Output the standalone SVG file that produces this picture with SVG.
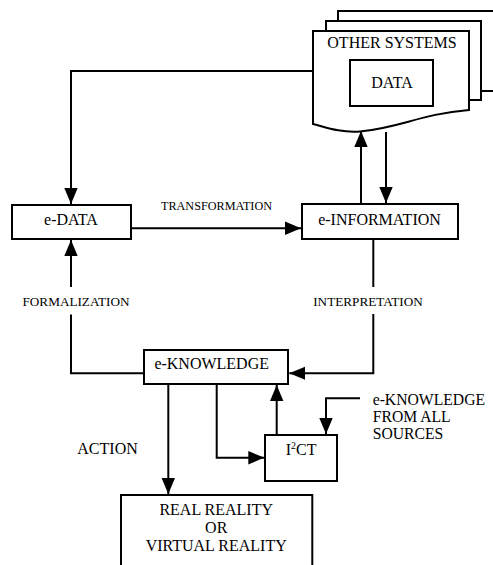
<svg xmlns="http://www.w3.org/2000/svg" width="493" height="565" viewBox="0 0 493 565">
<style>
.box{fill:#fff;stroke:#000;stroke-width:2}
.ln{fill:none;stroke:#000;stroke-width:2}
.arr{fill:none;stroke:#000;stroke-width:2;marker-end:url(#ah)}
.n{font-size:16px;text-anchor:middle}
.lb{font-size:13.2px;text-anchor:middle}
</style>
<defs>
<marker id="ah" markerUnits="userSpaceOnUse" markerWidth="16" markerHeight="14" viewBox="0 0 16 14" refX="16" refY="7" orient="auto">
<path d="M0,0.3 L16,7 L0,13.7 Z" fill="#000"/>
</marker>
</defs>
<rect width="493" height="565" fill="#fff"/>
<g id="connectors">
<polyline class="arr" points="313,71 71,71 71,204"/>
<line class="arr" x1="132" y1="228.3" x2="301" y2="228.3"/>
<line class="arr" x1="361" y1="203" x2="361" y2="131"/>
<line class="arr" x1="386" y1="132" x2="386" y2="203"/>
<line class="ln" x1="373.3" y1="240" x2="373.3" y2="287"/>
<polyline class="arr" points="373.3,314 373.3,373.3 289.3,373.3"/>
<polyline class="ln" points="143.3,373.3 71,373.3 71,314.5"/>
<line class="arr" x1="71" y1="287" x2="71" y2="240"/>
<line class="arr" x1="168.3" y1="385" x2="168.3" y2="494"/>
<polyline class="arr" points="216.7,385 216.7,457.7 264.3,457.7"/>
<line class="arr" x1="276.7" y1="434" x2="276.7" y2="385"/>
<polyline class="arr" points="360,398.3 326,398.3 326,434"/>
</g>
<g font-family="'Liberation Serif', 'Times New Roman', 'DejaVu Serif', serif" fill="#000">
<g id="other-systems">
<rect class="box" x="338" y="11" width="170" height="80"/>
<rect class="box" x="326" y="21" width="155" height="79"/>
<path class="box" d="M313,31 H469 V110 C420,114 400,128 360,131.5 C340,133 325,127 313,124 Z"/>
<text class="n" x="392" y="48">OTHER SYSTEMS</text>
</g>
<g id="data">
<rect class="box" x="350" y="60" width="83" height="46"/>
<text class="n" x="392" y="87.5">DATA</text>
</g>
<g id="e-data">
<rect class="box" x="12" y="205" width="119" height="34"/>
<text class="n" x="71" y="225">e-DATA</text>
</g>
<g id="e-information">
<rect class="box" x="302" y="204" width="156" height="35"/>
<text class="n" x="379.5" y="225">e-INFORMATION</text>
</g>
<g id="e-knowledge">
<rect class="box" x="144" y="350" width="144" height="34"/>
<text class="n" x="211.7" y="369.3">e-KNOWLEDGE</text>
</g>
<g id="i2ct">
<rect class="box" x="265" y="435" width="72" height="46"/>
<text x="285.7" y="455" font-size="16">I<tspan dy="-6" font-size="10">2</tspan><tspan dy="6">CT</tspan></text>
</g>
<g id="reality">
<path class="ln" d="M121,567 V495 H312.3 V567"/>
<text class="n" x="216.2" y="514.5">REAL REALITY</text>
<text class="n" x="216.2" y="532.5">OR</text>
<text class="n" x="216.2" y="551.2">VIRTUAL REALITY</text>
</g>
<g id="labels">
<text class="lb" x="216.5" y="210" style="font-size:12.2px">TRANSFORMATION</text>
<text class="lb" x="368" y="305.7">INTERPRETATION</text>
<text class="lb" x="76" y="306">FORMALIZATION</text>
<text x="77.3" y="454.3" font-size="16">ACTION</text>
</g>
<g id="external-knowledge" font-size="15.7">
<text x="372.7" y="405">e-KNOWLEDGE</text>
<text x="372.7" y="421.7">FROM ALL</text>
<text x="372.7" y="439.3">SOURCES</text>
</g>
</g>
</svg>
